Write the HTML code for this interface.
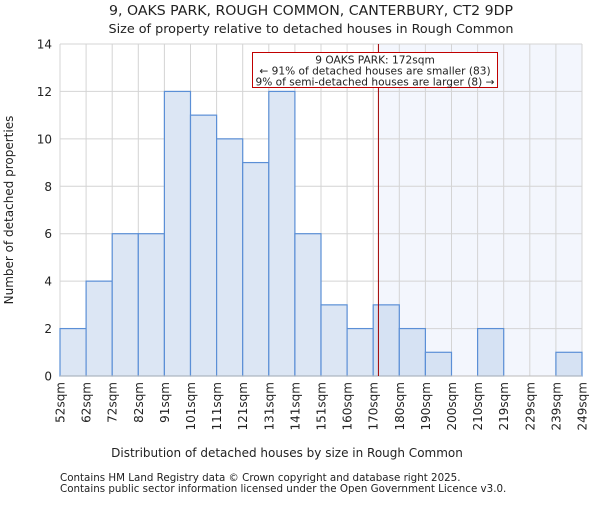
<!DOCTYPE html>
<html><head><meta charset="utf-8"><style>
body{margin:0;background:#fff;}
svg text{font-family:"DejaVu Sans","Liberation Sans",sans-serif;fill:#222;}
</style></head><body>
<svg id="chart" width="600" height="500">
<text x="311" y="15" text-anchor="middle" font-size="13" textLength="404" lengthAdjust="spacingAndGlyphs">9, OAKS PARK, ROUGH COMMON, CANTERBURY, CT2 9DP</text>
<text x="311" y="33" text-anchor="middle" font-size="12.8" textLength="405" lengthAdjust="spacingAndGlyphs">Size of property relative to detached houses in Rough Common</text>
<g id="plot"></g>
<text x="287" y="457" text-anchor="middle" font-size="12">Distribution of detached houses by size in Rough Common</text>
<text transform="translate(13,210) rotate(-90)" text-anchor="middle" font-size="12">Number of detached properties</text>
<text x="60" y="481" font-size="10.3">Contains HM Land Registry data © Crown copyright and database right 2025.</text>
<text x="60" y="492" font-size="10.3">Contains public sector information licensed under the Open Government Licence v3.0.</text>
</svg>
<script>
const binLabels=["52sqm","62sqm","72sqm","82sqm","91sqm","101sqm","111sqm","121sqm","131sqm","141sqm","151sqm","160sqm","170sqm","180sqm","190sqm","200sqm","210sqm","219sqm","229sqm","239sqm","249sqm"];
const counts=[2,4,6,6,12,11,10,9,12,6,3,2,3,2,1,0,2,0,0,1];
const yTicks=[0,2,4,6,8,10,12,14];
const markerValue=172;
const ns="http://www.w3.org/2000/svg";
const g=document.getElementById("plot");
const X0=60,X1=582,Y0=376,Y1=44,YMAX=14;
const bw=(X1-X0)/counts.length;
const xi=i=>X0+i*bw;
const y=v=>Y0-(v/YMAX)*(Y0-Y1);
function el(t,a){const e=document.createElementNS(ns,t);for(const k in a)e.setAttribute(k,a[k]);g.appendChild(e);return e;}
const edges=binLabels.map(s=>parseFloat(s));
let mi=0;for(let i=0;i<edges.length-1;i++){if(markerValue>=edges[i]&&markerValue<=edges[i+1]){mi=i+(markerValue-edges[i])/(edges[i+1]-edges[i]);break;}}
const mx=xi(mi);
let s=el("rect",{x:mx,y:Y1,width:X1-mx,height:Y0-Y1,fill:"#f3f6fd"});


for(let i=0;i<=counts.length;i++){const l=el("line",{x1:xi(i),x2:xi(i),y1:Y1,y2:Y0,stroke:"#d4d4d4","stroke-width":1});

}
yTicks.forEach(v=>{const l=el("line",{x1:X0,x2:X1,y1:y(v),y2:y(v),stroke:"#d4d4d4","stroke-width":1});


const t=el("text",{x:X0-8,y:y(v)+4.5,"text-anchor":"end","font-size":"12"});t.textContent=v;

});
counts.forEach((c,i)=>{if(c<=0)return;const r=el("rect",{x:xi(i),y:y(c),width:bw,height:Y0-y(c),fill:i>=12?"#d6e2f3":"#dce6f4",stroke:"#5b8fd6","stroke-width":1.2});

});
const ax=el("line",{x1:X0,x2:X1,y1:Y0,y2:Y0,stroke:"#bbb","stroke-width":1});


binLabels.forEach((lb,i)=>{const t=el("text",{transform:`translate(${xi(i)+4.5},382) rotate(-90)`,"text-anchor":"end","font-size":"12"});t.textContent=lb;

});
const ml=el("line",{x1:mx,x2:mx,y1:Y1,y2:Y0,stroke:"#a00000","stroke-width":1});


const bx=el("rect",{x:252.5,y:52.5,width:245,height:35,fill:"#fff",stroke:"#c00000","stroke-width":1});


["9 OAKS PARK: 172sqm","← 91% of detached houses are smaller (83)","9% of semi-detached houses are larger (8) →"].forEach((s2,k)=>{const t=el("text",{x:375,y:63.5+k*11,"text-anchor":"middle","font-size":"10.6"});t.textContent=s2;

});
</script>
</body></html>
